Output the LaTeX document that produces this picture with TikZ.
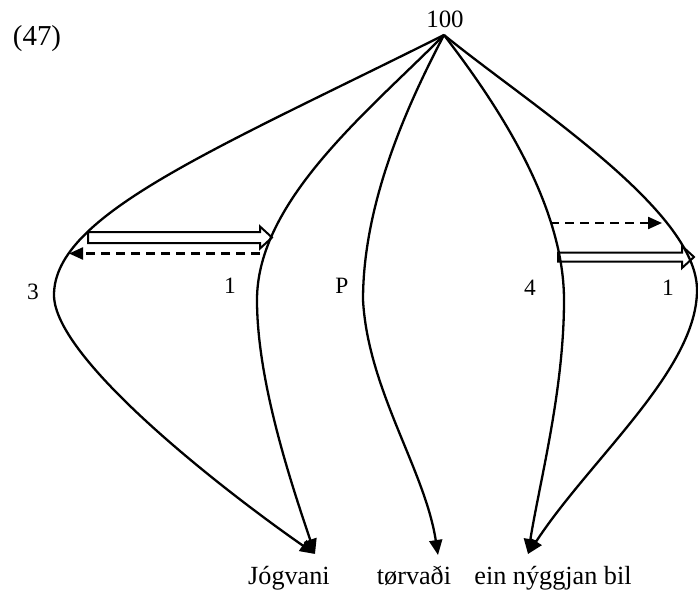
\documentclass[tikz,border=0pt]{standalone}
\usepackage{fontspec}
\setmainfont{Liberation Serif}
\usetikzlibrary{arrows.meta,calc}
\newcommand\blockarrow[3]{%
  \draw[blockline] ($(#1)+(0,-#3)$) -- ($(#2)+(-12,-#3)$) -- ($(#2)+(-12,-11)$) -- (#2)
    -- ($(#2)+(-12,11)$) -- ($(#2)+(-12,#3)$) -- ($(#1)+(0,#3)$) -- cycle;}
\begin{document}
\begin{tikzpicture}[x=1bp,y=-1bp,
  curveline/.style={line width=2.3bp},
  link/.style={line width=2.3bp, -{Triangle[length=15bp,width=13bp]}},
  dasharrow/.style={line width=2.3bp, dash pattern=on 9bp off 6bp, -{Triangle[length=14bp,width=12bp]}},
  blockline/.style={line width=2bp, line join=miter},
  midlbl/.style={inner sep=0pt, anchor=base, font=\fontsize{23.5}{26}\selectfont},
  botlbl/.style={inner sep=0pt, anchor=base, font=\fontsize{26.3}{28}\selectfont},
  toplbl/.style={inner sep=0pt, anchor=base, font=\fontsize{25}{27}\selectfont}]
\useasboundingbox (0,0) rectangle (698,591);

% labels
\node[inner sep=0pt, anchor=base, font=\fontsize{29}{32}\selectfont] (num) at (37,46) {(47)};
\node[toplbl] (hundred) at (445,28) {100};
\node[midlbl] (l3) at (33,299) {3};
\node[midlbl] (l1a) at (230,293) {1};
\node[midlbl] (lP) at (342,293) {P};
\node[midlbl] (l4) at (530,295) {4};
\node[midlbl] (l1b) at (668,295) {1};
\node[botlbl] (jog) at (289,584) {Jógvani};
\node[botlbl] (tor) at (414,584) {tørvaði};
\node[botlbl] (ein) at (553,584) {ein nýggjan bil};

% key points
\coordinate (apex) at (444,35);
\coordinate (tJ) at (315,554);
\coordinate (tT) at (438,555);
\coordinate (tE) at (528,554);
\coordinate (m1) at (54,295);
\coordinate (m2) at (257,300);
\coordinate (m3) at (363,300);
\coordinate (m4) at (564,300);
\coordinate (m5) at (697,290);

% curves
\draw[curveline] (apex) .. controls (214,150) and (54,215) .. (m1);
\draw[link] (m1) .. controls (54,360) and (230,495) .. (tJ);

\draw[curveline] (apex) .. controls (370,110) and (257,200) .. (m2);
\draw[link] (m2) .. controls (257,380) and (290,480) .. (tJ);

\draw[curveline] (apex) .. controls (410,100) and (363,200) .. (m3);
\draw[link] (m3) .. controls (368,390) and (425,470) .. (tT);

\draw[curveline] (apex) .. controls (490,95) and (564,200) .. (m4);
\draw[link] (m4) .. controls (564,390) and (540,480) .. (tE);

\draw[curveline] (apex) .. controls (530,105) and (697,210) .. (m5);
\draw[link] (m5) .. controls (697,370) and (590,459) .. (tE);

% horizontal arrows
\coordinate (bs1) at (88,237.5);
\coordinate (be1) at (272,237.5);
\blockarrow{bs1}{be1}{5.5}
\coordinate (ds1) at (260,253.5);
\coordinate (de1) at (69,253.5);
\draw[dasharrow] (ds1) -- (de1);

\coordinate (ds2) at (550,223);
\coordinate (de2) at (662,223);
\draw[dasharrow] (ds2) -- (de2);
\coordinate (bs2) at (558,257);
\coordinate (be2) at (694,257);
\blockarrow{bs2}{be2}{4.5}
\end{tikzpicture}
\end{document}
